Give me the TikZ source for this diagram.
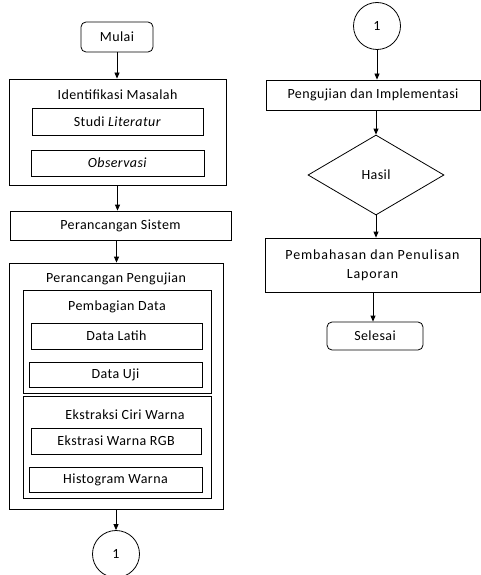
\documentclass[tikz,border=0pt]{standalone}
\usepackage{fontspec}
\setmainfont{Carlito}[LetterSpace=3]
\newfontfamily\widefont{Carlito}[LetterSpace=6.5]
\usetikzlibrary{arrows.meta,shapes.geometric}
\begin{document}
\begin{tikzpicture}[x=1pt,y=-1pt,
  every node/.style={font=\fontsize{14}{18}\selectfont},
  box/.style={draw,line width=0.8pt,rectangle,inner sep=0pt},
  term/.style={box,rounded corners=5pt},
  conn/.style={draw,line width=0.8pt,circle,inner sep=0pt,minimum size=47pt},
  flow/.style={line width=0.8pt,-{Triangle[length=6pt,width=5pt]}},
  title/.style={inner sep=0pt}]
\useasboundingbox (0,0) rectangle (481,575);
% left column
\node[term,minimum width=72pt,minimum height=30pt] (mulai) at (117,37) {Mulai};
\node[box,minimum width=217pt,minimum height=106pt] (idm) at (117.5,132) {};
\node[title] (idmt) at (117.5,95) {Identifikasi Masalah};
\node[box,minimum width=171pt,minimum height=27pt] (studi) at (117.5,121.5) {Studi \textit{Literatur}};
\node[box,minimum width=173pt,minimum height=26pt] (obs) at (117.5,163) {\textit{Observasi}};
\node[box,minimum width=221pt,minimum height=29pt] (ps) at (120.5,225.5) {Perancangan Sistem};
\node[box,minimum width=214pt,minimum height=246pt] (pp) at (116,386) {};
\node[title] (ppt) at (116,279) {Perancangan Pengujian};
\node[box,minimum width=188pt,minimum height=103pt] (pd) at (117,341.5) {};
\node[title] (pdt) at (117,307) {Pembagian Data};
\node[box,minimum width=171pt,minimum height=26pt] (dl) at (116.5,336) {Data Latih};
\node[box,minimum width=173pt,minimum height=25pt] (du) at (115.5,374.5) {Data Uji};
\node[box,minimum width=188pt,minimum height=102pt] (ecw) at (117,447) {};
\node[title] (ecwt) at (125,415) {Ekstraksi Ciri Warna};
\node[box,minimum width=170pt,minimum height=26pt] (rgb) at (116,441) {Ekstrasi Warna RGB};
\node[box,minimum width=173pt,minimum height=25pt] (hist) at (115.5,479.5) {Histogram Warna};
\node[conn] (c1) at (116,554) {1};
% right column
\node[conn] (c2) at (377,26) {1};
\node[box,minimum width=214pt,minimum height=30pt] (pi) at (373,95) {Pengujian dan Implementasi};
\node[draw,line width=0.8pt,diamond,aspect=1.7,minimum width=136pt,minimum height=80pt,inner sep=0pt] (hasil) at (376,175) {Hasil};
\node[box,minimum width=215pt,minimum height=54pt,align=center,font=\fontsize{14}{19}\selectfont\widefont] (pem) at (372.5,265) {Pembahasan dan Penulisan\\Laporan};
\node[term,minimum width=96pt,minimum height=28pt] (sel) at (375,336) {Selesai};
% connectors
\draw[flow] (mulai.south) -- (mulai.south |- idm.north);
\draw[flow] ([xshift=-3pt]ps.north |- idm.south) -- ([xshift=-3pt]ps.north);
\draw[flow] ([xshift=-4pt]ps.south) -- ([xshift=-4pt]ps.south |- pp.north);
\draw[flow] (pp.south) -- (c1.north);
\draw[flow] (c2.south) -- (c2.south |- pi.north);
\draw[flow] (pi.south -| hasil.north) -- (hasil.north);
\draw[flow] (hasil.south) -- (hasil.south |- pem.north);
\draw[flow] ([xshift=-2pt]sel.north |- pem.south) -- ([xshift=-2pt]sel.north);
\end{tikzpicture}
\end{document}
